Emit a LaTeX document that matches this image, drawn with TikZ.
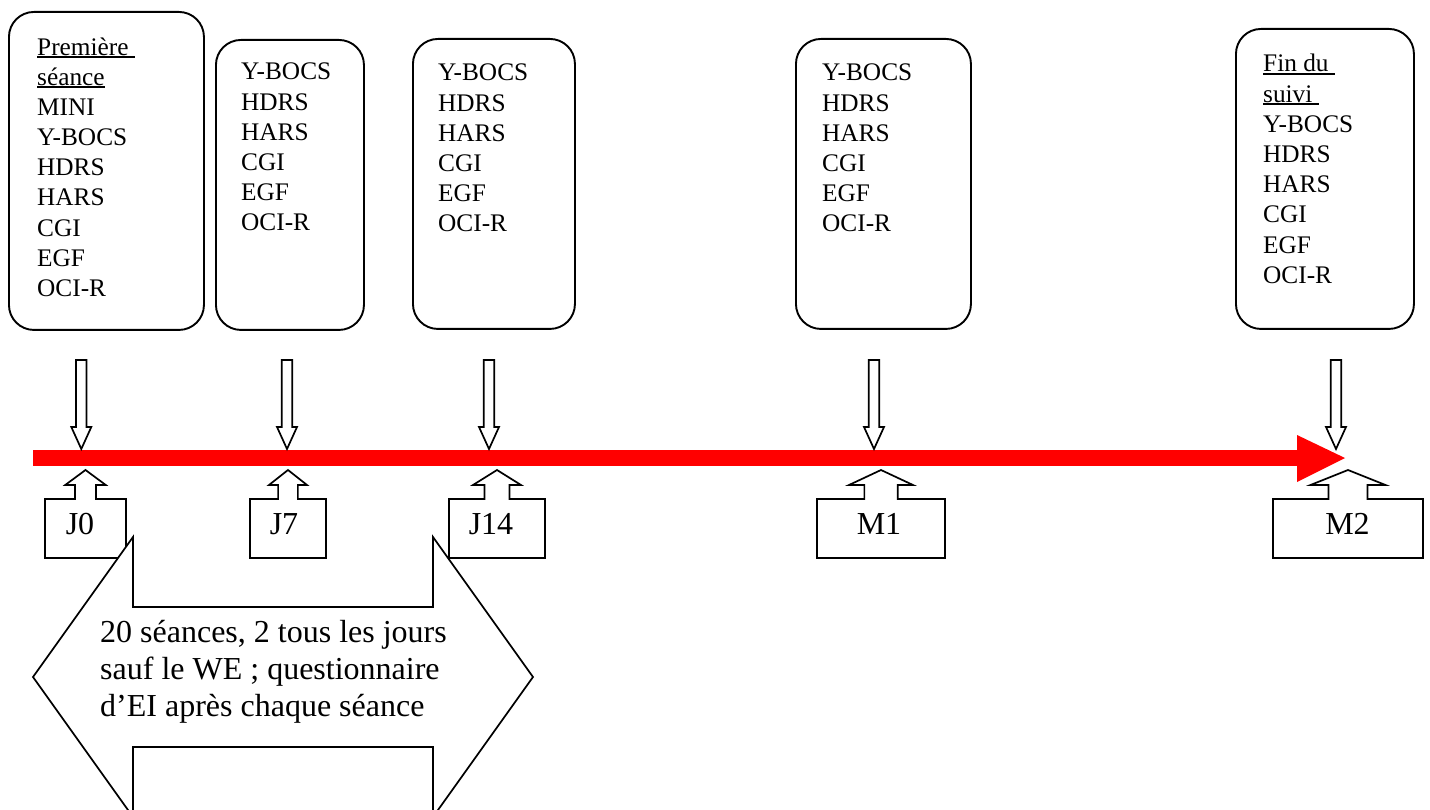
\documentclass[tikz,border=0pt]{standalone}
\usepackage{fontspec}
\setmainfont{Liberation Serif}
\newcommand\ulin[1]{\setbox0\hbox{#1}\rlap{\rule[-2.6pt]{\wd0}{1.5pt}}\box0}
\newcommand\dnarrow[1]{%
  \draw[shapeline] ({#1-5.25},360) -- ({#1+5.25},360) -- ({#1+5.25},427) -- ({#1+10},427)
    -- (#1,449) -- ({#1-10},427) -- ({#1-5.25},427) -- cycle;}
\newcommand\callout[2]{%
  \pgfmathsetmacro\clcc{(#1+#2)/2}%
  \pgfmathsetmacro\clnk{(#2-#1)*0.13}%
  \pgfmathsetmacro\clhd{(#2-#1)*0.25}%
  \draw[shapeline] (#1,558) -- (#1,499) -- ({\clcc-\clnk},499) -- ({\clcc-\clnk},485)
    -- ({\clcc-\clhd},485) -- (\clcc,470) -- ({\clcc+\clhd},485) -- ({\clcc+\clnk},485)
    -- ({\clcc+\clnk},499) -- (#2,499) -- (#2,558) -- cycle;}
\tikzset{
  infobox/.style={draw=black, line width=1.9pt, rounded corners=25pt, fill=white,
    anchor=north west, inner sep=0pt},
  boxtext/.style={anchor=base west, align=left, inner sep=0pt,
    font=\fontsize{25.3pt}{30.2pt}\selectfont},
  bigtext/.style={inner sep=0pt, font=\fontsize{32pt}{37pt}\selectfont},
  shapeline/.style={draw=black, line width=1.7pt, fill=white, line join=miter},
}
\begin{document}
\begin{tikzpicture}[x=1pt,y=-1pt]
\useasboundingbox (0,0) rectangle (1430,810);
\clip (0,0) rectangle (1430,810);
\fill[white] (0,0) rectangle (1430,810);

% top boxes
\node[infobox, minimum width=195pt, minimum height=318pt] (b1) at (8,11) {};
\node[infobox, minimum width=148pt, minimum height=290pt] (b2) at (215,39) {};
\node[infobox, minimum width=162pt, minimum height=290pt] (b3) at (412,38) {};
\node[infobox, minimum width=175pt, minimum height=290pt] (b4) at (795,38) {};
\node[infobox, minimum width=178pt, minimum height=300pt] (b5) at (1235,28) {};

% base anchor of a multi-line node = baseline of its last line
\node[boxtext] (t1) at (37,296.6) {\ulin{Première\ }\\\ulin{séance}\\MINI\\Y-BOCS\\HDRS\\HARS\\CGI\\EGF\\OCI-R};
\node[boxtext] (t2) at (241,231) {Y-BOCS\\HDRS\\HARS\\CGI\\EGF\\OCI-R};
\node[boxtext] (t3) at (438,232) {Y-BOCS\\HDRS\\HARS\\CGI\\EGF\\OCI-R};
\node[boxtext] (t4) at (822,232) {Y-BOCS\\HDRS\\HARS\\CGI\\EGF\\OCI-R};
\node[boxtext] (t5) at (1263,283.4) {\ulin{Fin du\ }\\\ulin{suivi\ }\\Y-BOCS\\HDRS\\HARS\\CGI\\EGF\\OCI-R};

% timeline
\fill[red] (33,450) rectangle (1297,466);
\fill[red] (1297,435) -- (1345,458) -- (1297,482) -- cycle;

% down arrows
\dnarrow{81.3}
\dnarrow{287}
\dnarrow{489}
\dnarrow{874}
\dnarrow{1336}

% callouts
\callout{45}{126}
\callout{250}{326}
\callout{449}{545}
\callout{817}{945}
\callout{1273}{1423}
\node[bigtext, anchor=base] (lJ0) at (80,534) {J0};
\node[bigtext, anchor=base] (lJ7) at (284,534) {J7};
\node[bigtext, anchor=base] (lJ14) at (491,534) {J14};
\node[bigtext, anchor=base] (lM1) at (879,534) {M1};
\node[bigtext, anchor=base] (lM2) at (1347.5,534) {M2};

% double arrow
\draw[shapeline] (33,677) -- (133,537) -- (133,607) -- (433,607) -- (433,537) -- (533,677)
  -- (433,817) -- (433,747) -- (133,747) -- (133,817) -- cycle;
\node[bigtext, anchor=base west, align=left] (dtext) at (100,716)
  {20 séances, 2 tous les jours\\sauf le WE ; questionnaire\\d’EI après chaque séance};
\end{tikzpicture}
\end{document}
